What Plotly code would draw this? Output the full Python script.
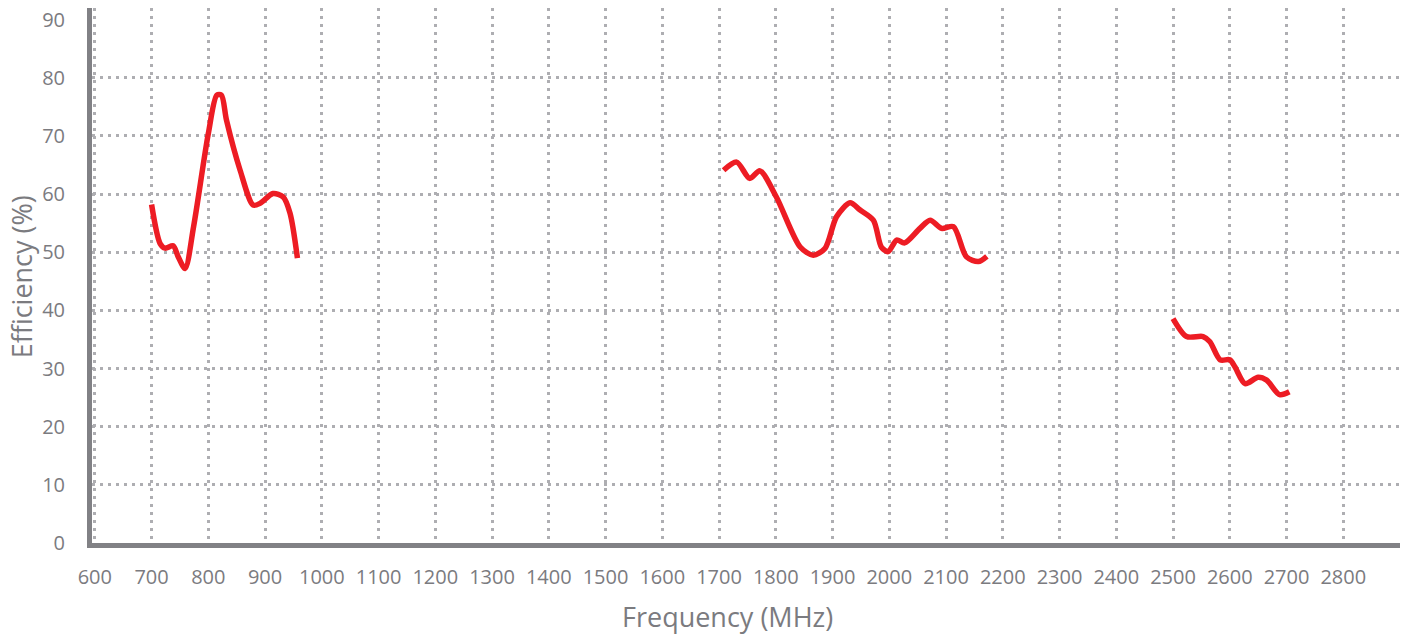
import plotly.graph_objects as go

# Band 1 (low band)
freq_low = [700, 715, 724, 738, 747, 759, 774, 800, 815, 823, 832, 856, 879, 891, 914, 932, 944, 957]
eff_low = [58.2, 51.5, 50.7, 51.1, 49.2, 47.2, 54.4, 70.4, 77.0, 77.0, 72.7, 64.1, 58.1, 58.4, 60.1, 59.5, 56.7, 49.0]

# Band 2 (mid band)
freq_mid = [1708, 1731, 1754, 1772, 1801, 1843, 1866, 1887, 1907, 1931, 1948, 1972, 1986, 1998, 2013, 2027,
            2054, 2072, 2092, 2113, 2136, 2157, 2172]
eff_mid = [64.1, 65.5, 62.7, 64.0, 59.5, 50.9, 49.5, 50.7, 56.1, 58.5, 57.3, 55.5, 50.9, 50.1, 52.1, 51.6,
           54.1, 55.5, 54.1, 54.4, 49.2, 48.4, 49.3]

# Band 3 (high band)
freq_high = [2500, 2524, 2553, 2565, 2583, 2600, 2609, 2627, 2650, 2665, 2688, 2705]
eff_high = [38.6, 35.5, 35.5, 34.6, 31.5, 31.5, 30.3, 27.4, 28.5, 28.0, 25.5, 26.0]

x_ticks = list(range(600, 2900, 100))
y_ticks = list(range(0, 100, 10))
y_grid = list(range(10, 90, 10))

x_title = "Frequency (MHz)"
y_title = "Efficiency (%)"

RED = "#ed1c24"
GRID = "#aeaeb2"
AXIS = "#818185"
TXT = "#7b7b7f"
FONT = "Open Sans"

fig = go.Figure()
for fx, fy in [(freq_low, eff_low), (freq_mid, eff_mid), (freq_high, eff_high)]:
    fig.add_trace(go.Scatter(x=fx, y=fy, mode="lines",
                             line=dict(color=RED, width=5.5, shape="spline", smoothing=0.8),
                             showlegend=False, hoverinfo="skip"))
# invisible trace to activate overlay axis
fig.add_trace(go.Scatter(x=[None], y=[None], yaxis="y2", showlegend=False, hoverinfo="skip"))

fig.update_layout(
    width=1408, height=637,
    margin=dict(l=92, r=8, t=8, b=94),
    paper_bgcolor="white", plot_bgcolor="white",
    font=dict(family=FONT, color=TXT, size=20),
    hovermode=False,
    xaxis=dict(range=[595, 2900], tickvals=x_ticks, ticktext=[str(v) for v in x_ticks],
               showgrid=True, gridcolor=GRID, gridwidth=3, griddash="3px,5px",
               showline=True, linecolor=AXIS, linewidth=5, zeroline=False,
               ticks="outside", ticklen=12, tickcolor="rgba(0,0,0,0)",
               tickfont=dict(size=20, color=TXT), automargin=False),
    yaxis=dict(range=[0, 92], tickvals=y_ticks, ticktext=[str(v) for v in y_ticks],
               showgrid=False, showline=True, linecolor=AXIS, linewidth=5, zeroline=False,
               ticks="outside", ticklen=18, tickcolor="rgba(0,0,0,0)",
               tickfont=dict(size=20, color=TXT), automargin=False),
    yaxis2=dict(range=[0, 92], overlaying="y", tickvals=y_grid, showticklabels=False,
                showgrid=True, gridcolor=GRID, gridwidth=3, griddash="3px,5px",
                showline=False, zeroline=False, layer="below traces", automargin=False),
    annotations=[
        dict(text=x_title, xref="paper", yref="paper", x=0.486, y=-0.138,
             xanchor="center", yanchor="middle", showarrow=False,
             font=dict(size=27, color=TXT, family=FONT)),
        dict(text=y_title, xref="paper", yref="paper", x=-0.0541, y=0.497,
             xanchor="center", yanchor="middle", showarrow=False, textangle=-90,
             font=dict(size=27, color=TXT, family=FONT)),
    ],
)
# remove the default 8px page margin so the figure fills the window exactly
fig.write_html("out.html", config={"displayModeBar": False},
               post_script="document.body.style.margin='0';document.body.style.overflow='hidden';")
